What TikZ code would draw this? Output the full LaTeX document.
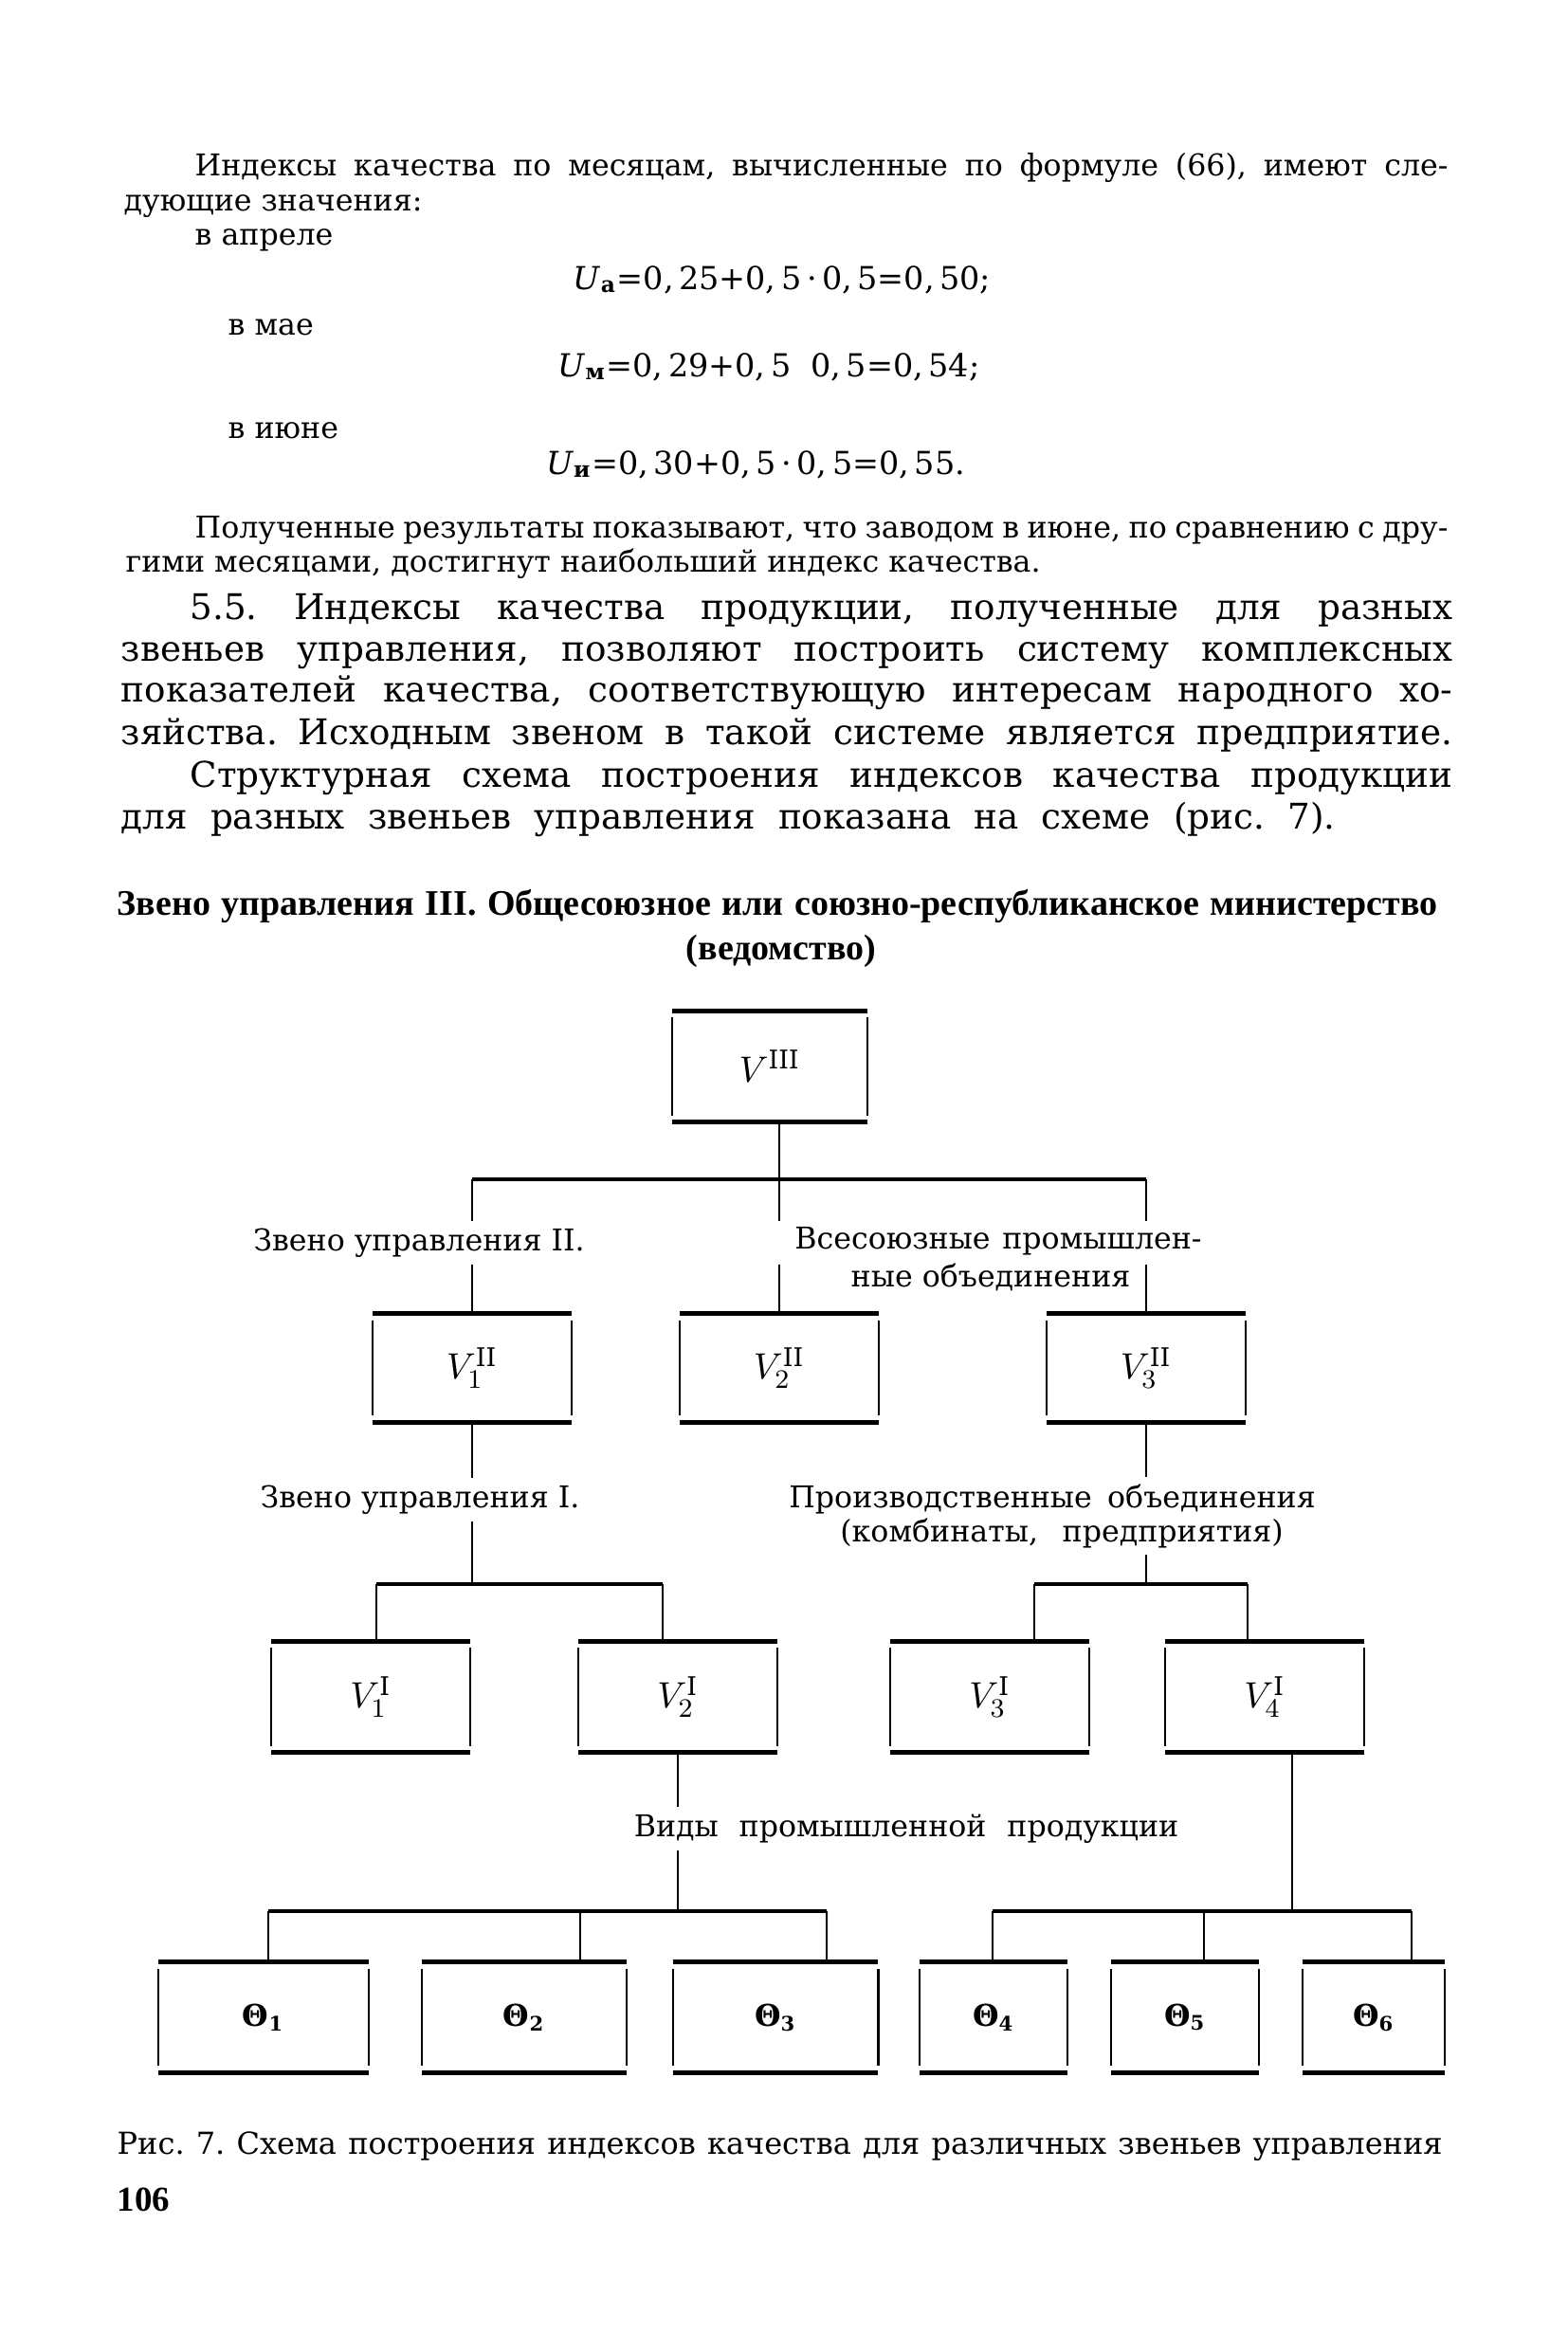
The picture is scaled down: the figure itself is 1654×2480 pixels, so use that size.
\documentclass[tikz,border=0pt]{standalone}
\usepackage{fontspec}
\setmainfont{DejaVu Serif}
\newfontfamily\headfont{Liberation Serif}

\newcommand\spreadline[2]{\makebox[#1][s]{#2}}
\newcommand\smalltext{\fontsize{9}{11}\selectfont}
\newcommand\largetext{\fontsize{10.6}{13}\selectfont}
\newcommand\labeltext{\fontsize{9}{11}\selectfont}

\tikzset{
  txt/.style={anchor=base west, inner sep=0pt},
  ctxt/.style={anchor=base, inner sep=0pt},
  lbl/.style={anchor=base, inner sep=2pt, font=\labeltext},
  qbox/.style={minimum width=2.08cm, minimum height=1.14cm, inner sep=0pt},
  side/.style={line width=0.7pt},
  rule/.style={line width=1.5pt},
  conn/.style={line width=0.8pt},
  bus/.style={line width=1.4pt}
}

\begin{document}
\frenchspacing
\begin{tikzpicture}[x=0.01cm, y=-0.01cm]
\useasboundingbox (0,0) rectangle (1654,2480);

\begin{scope}[font=\smalltext]
\node[txt] (s1) at (205,185) {\spreadline{13.21cm}{Индексы качества по месяцам, вычисленные по формуле (66), имеют сле-}};
\node[txt] (s2) at (130,222) {дующие значения:};
\node[txt] (s3) at (205,258) {в апреле};
\node[txt] (s4) at (240,353) {в мае};
\node[txt] (s5) at (240,462) {в июне};
\node[txt] (s6) at (205,567) {\spreadline{13.21cm}{Полученные результаты показывают, что заводом в июне, по сравнению с дру-}};
\node[txt] (s7) at (132,603) {гими месяцами, достигнут наибольший индекс качества.};
\end{scope}

\begin{scope}[font=\fontsize{9.5}{11}\selectfont]
\node[ctxt] (f1) at (825,305) {\textit{U}\textsubscript{\textbf{а}}=0,\,25+0,\,5\,·\,0,\,5=0,\,50;};
\node[ctxt] (f2) at (811,397) {\textit{U}\textsubscript{\textbf{м}}=0,\,29+0,\,5\ \ 0,\,5=0,\,54;};
\node[ctxt] (f3) at (797,500) {\textit{U}\textsubscript{\textbf{и}}=0,\,30+0,\,5\,·\,0,\,5=0,\,55.};
\end{scope}

\begin{scope}[font=\largetext]
\node[txt] (m1) at (200,653) {\spreadline{13.31cm}{5.5. Индексы качества продукции, полученные для разных}};
\node[txt] (m2) at (127,697) {\spreadline{14.04cm}{звеньев управления, позволяют построить систему комплексных}};
\node[txt] (m3) at (127,740) {\spreadline{14.04cm}{показателей качества, соответствующую интересам народного хо-}};
\node[txt] (m4) at (127,785) {\spreadline{14.04cm}{зяйства. Исходным звеном в такой системе является предприятие.}};
\node[txt] (m5) at (200,830) {\spreadline{13.31cm}{Структурная схема построения индексов качества продукции}};
\node[txt] (m6) at (127,874) {\spreadline{12.80cm}{для разных звеньев управления показана на схеме (рис. 7).}};
\end{scope}

\node[txt, font=\headfont\bfseries\fontsize{10.8}{13}\selectfont] (h1) at (123,965)
  {\spreadline{13.92cm}{Звено управления III. Общесоюзное или союзно-республиканское министерство}};
\node[ctxt, font=\headfont\bfseries\fontsize{10.8}{13}\selectfont] (h2) at (824,1012) {(ведомство)};

% boxes
\node[qbox, minimum width=2.05cm, minimum height=1.16cm, font=\fontsize{11}{13}\selectfont] (v3) at (812,1125) {$V^{\mathrm{III}}$};
\begin{scope}[every node/.append style={font=\fontsize{11}{13}\selectfont}]
\node[qbox, minimum height=1.13cm] (v21) at (498,1443) {$V^{\mathrm{II}}_1$};
\node[qbox, minimum height=1.13cm] (v22) at (822,1443) {$V^{\mathrm{II}}_2$};
\node[qbox, minimum height=1.13cm] (v23) at (1209,1443) {$V^{\mathrm{II}}_3$};
\node[qbox, minimum height=1.16cm] (v11) at (391,1790) {$V^{\mathrm{I}}_1$};
\node[qbox, minimum height=1.16cm] (v12) at (715,1790) {$V^{\mathrm{I}}_2$};
\node[qbox, minimum height=1.16cm] (v13) at (1044,1790) {$V^{\mathrm{I}}_3$};
\node[qbox, minimum height=1.16cm] (v14) at (1334,1790) {$V^{\mathrm{I}}_4$};
\end{scope}
\begin{scope}[every node/.append style={qbox, minimum height=1.15cm, font=\bfseries\fontsize{9}{10}\selectfont}]
\node[minimum width=2.20cm] (t1) at (278,2128) {Θ\textsubscript{1}};
\node[minimum width=2.14cm] (t2) at (553,2128) {Θ\textsubscript{2}};
\node[minimum width=2.15cm] (t3) at (818,2128) {Θ\textsubscript{3}};
\node[minimum width=1.55cm] (t4) at (1048,2128) {Θ\textsubscript{4}};
\node[minimum width=1.54cm] (t5) at (1250,2128) {Θ\textsubscript{5}};
\node[minimum width=1.48cm] (t6) at (1449,2128) {Θ\textsubscript{6}};
\end{scope}

\foreach \b in {v3,v21,v22,v23,v11,v12,v13,v14,t1,t2,t3,t4,t5,t6}{
  \draw[side] ([yshift=-2pt]\b.north west) -- ([yshift=2pt]\b.south west)
              ([yshift=-2pt]\b.north east) -- ([yshift=2pt]\b.south east);
  \draw[rule] (\b.north west) -- (\b.north east) (\b.south west) -- (\b.south east);
}

% labels
\node[lbl] (lz2) at (442,1319) {Звено управления II.};
\node[lbl] (lvs1) at (1053,1317) {\spreadline{4.29cm}{Всесоюзные промышлен-}};
\node[lbl] (lvs2) at (1045,1357) {ные объединения};
\node[lbl] (lz1) at (443,1590) {Звено управления I.};
\node[lbl] (lp1) at (1110,1590) {\spreadline{5.55cm}{Производственные объединения}};
\node[lbl] (lp2) at (1120,1626) {\spreadline{4.67cm}{(комбинаты, предприятия)}};
\node[lbl] (lv) at (956,1937) {\spreadline{5.74cm}{Виды промышленной продукции}};

% level III -> II
\coordinate (b1) at (0,1244);
\draw[bus] (v21.north |- b1) -- (v23.north |- b1);
\draw[conn] (v22.north |- v3.south) -- (v22.north |- lz2.north);
\draw[conn] (v22.north |- lz2.south) -- (v22.north);
\draw[conn] (v21.north |- b1) -- (v21.north |- lz2.north);
\draw[conn] (v21.north |- lz2.south) -- (v21.north);
\draw[conn] (v23.north |- b1) -- (v23.north |- lz2.north);
\draw[conn] (v23.north |- lz2.south) -- (v23.north);

% level II -> I
\coordinate (b2) at (0,1671);
\coordinate (d11) at (397,1671);
\coordinate (d12) at (699,1671);
\coordinate (d13) at (1091,1671);
\coordinate (d14) at (1316,1671);
\draw[conn] (v21.south) -- (v21.south |- lz1.north);
\draw[conn] (v21.south |- lz1.south) -- (v21.south |- b2);
\draw[bus] (d11) -- (d12);
\draw[conn] (d11) -- (d11 |- v11.north);
\draw[conn] (d12) -- (d12 |- v12.north);
\draw[conn] (v23.south) -- (v23.south |- lp1.north);
\draw[conn] (v23.south |- lp2.south) -- (v23.south |- b2);
\draw[bus] (d13) -- (d14);
\draw[conn] (d13) -- (d13 |- v13.north);
\draw[conn] (d14) -- (d14 |- v14.north);

% level I -> products
\coordinate (b4) at (0,2016);
\coordinate (d1) at (283,2016);
\coordinate (d2) at (612,2016);
\coordinate (d3) at (872,2016);
\coordinate (d4) at (1047,2016);
\coordinate (d5) at (1270,2016);
\coordinate (d6) at (1489,2016);
\coordinate (d14b) at (1363,2016);
\draw[conn] (v12.south) -- (v12.south |- lv.north);
\draw[conn] (v12.south |- lv.south) -- (v12.south |- b4);
\draw[conn] (d14b |- v14.south) -- (d14b);
\draw[bus] (d1) -- (d3);
\draw[bus] (d4) -- (d6);
\foreach \d/\t in {d1/t1,d2/t2,d3/t3,d4/t4,d5/t5,d6/t6}
  \draw[conn] (\d) -- (\d |- \t.north);

\node[txt, font=\fontsize{9.1}{11}\selectfont] (cap) at (123,2272)
  {\spreadline{13.97cm}{Рис. 7. Схема построения индексов качества для различных звеньев управления}};
\node[txt, font=\headfont\bfseries\fontsize{10.5}{12}\selectfont] (pg) at (123,2332) {106};
\end{tikzpicture}
\end{document}
